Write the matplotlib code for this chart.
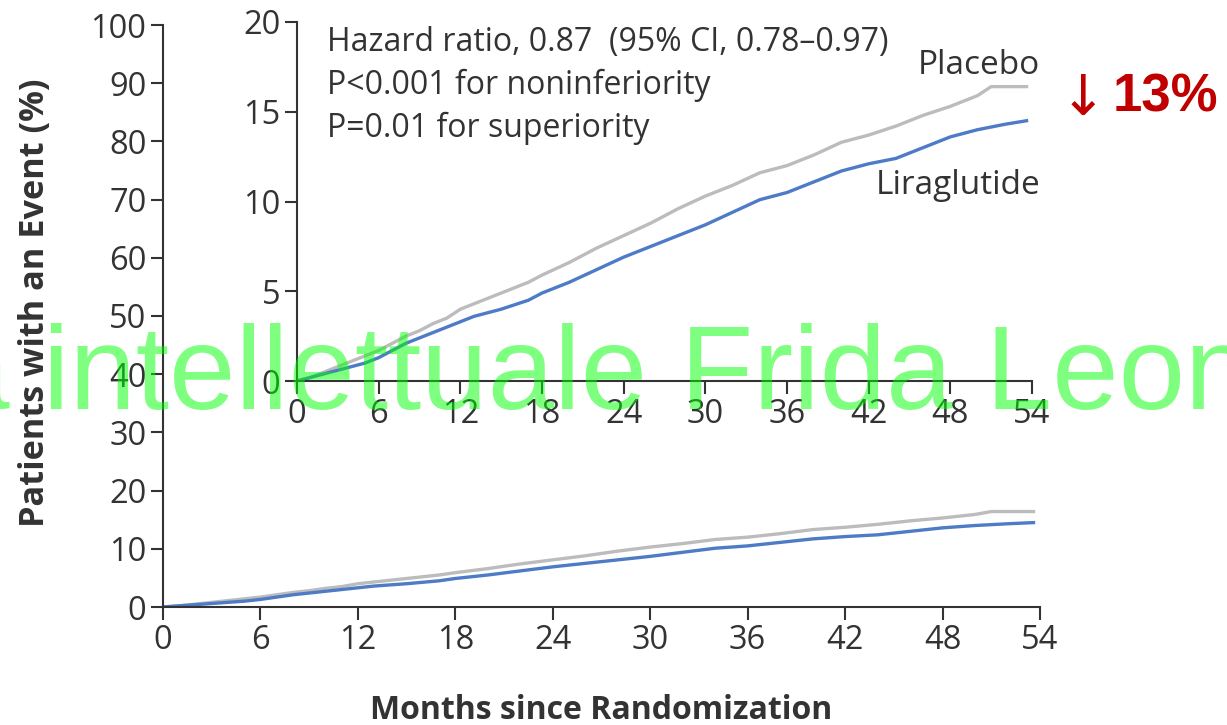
import matplotlib.pyplot as plt

# Kaplan-Meier style cumulative incidence (months, %)
months_placebo = [0, 1, 2, 3, 4, 5, 6, 7, 8, 9, 10, 11, 12, 13, 15, 17, 18, 20, 22, 24,
                  26, 28, 30, 32, 34, 36, 38, 40, 42, 44, 46, 48, 50, 51, 53.6]
placebo = [0, 0.2, 0.5, 0.8, 1.1, 1.4, 1.7, 2.1, 2.5, 2.8, 3.2, 3.5, 4.0, 4.3, 4.9, 5.5, 5.9, 6.6, 7.4, 8.1,
           8.8, 9.6, 10.3, 10.9, 11.6, 12.0, 12.6, 13.3, 13.7, 14.2, 14.8, 15.3, 15.9, 16.4, 16.4]

months_lira = [0, 1, 2, 3, 4, 5, 6, 7, 8, 9, 10, 11, 12, 13, 15, 17, 18, 20, 22, 24,
               26, 28, 30, 32, 34, 36, 38, 40, 42, 44, 46, 48, 50, 52, 53.6]
liraglutide = [0, 0.2, 0.4, 0.6, 0.8, 1.0, 1.3, 1.7, 2.1, 2.4, 2.7, 3.0, 3.3, 3.6, 4.0, 4.5, 4.9, 5.5, 6.2, 6.9,
               7.5, 8.1, 8.7, 9.4, 10.1, 10.5, 11.1, 11.7, 12.1, 12.4, 13.0, 13.6, 14.0, 14.3, 14.5]

xticks = list(range(0, 55, 6))
main_yticks = list(range(0, 101, 10))
inset_yticks = [0, 5, 10, 15, 20]

grey = '#bcbcbc'
blue = '#4d7bc6'
dark = '#333333'
W, H = 1227, 725

plt.rcParams['font.family'] = ['Open Sans', 'DejaVu Sans']
fig = plt.figure(figsize=(W / 100, H / 100), dpi=100)


def style(ax, fs):
    for s in ['top', 'right']:
        ax.spines[s].set_visible(False)
    for s in ['left', 'bottom']:
        ax.spines[s].set_color(dark)
        ax.spines[s].set_linewidth(1.5)
    ax.tick_params(direction='out', length=9, width=1.5, colors=dark, labelsize=fs, pad=3)


# main axes
ax = fig.add_axes([163 / W, 1 - 607 / H, (1040 - 163) / W, (607 - 25) / H])
ax.plot(months_placebo, placebo, color=grey, lw=2.4)
ax.plot(months_lira, liraglutide, color=blue, lw=2.4)
ax.set_xlim(0, 54)
ax.set_ylim(0, 100)
ax.set_xticks(xticks)
ax.set_yticks(main_yticks)
style(ax, 23.5)
ax.set_ylabel('Patients with an Event (%)', fontsize=24.7, fontweight='bold', color=dark)
ax.yaxis.set_label_coords(-0.127, 0.523)
ax.set_xlabel('Months since Randomization', fontsize=23, fontweight='bold', color=dark, labelpad=27)

# inset
ax2 = fig.add_axes([297 / W, 1 - 381 / H, (1032 - 297) / W, (381 - 22) / H])
ax2.patch.set_alpha(0)
ax2.plot(months_placebo, placebo, color=grey, lw=2.4)
ax2.plot(months_lira, liraglutide, color=blue, lw=2.4)
ax2.set_xlim(0, 54)
ax2.set_ylim(0, 20)
ax2.set_xticks(xticks)
ax2.set_yticks(inset_yticks)
style(ax2, 23.5)

ax2.text(2.2, 19.8, 'Hazard ratio, 0.87  (95% CI, 0.78\u20130.97)\nP<0.001 for noninferiority\nP=0.01 for superiority',
         fontsize=23, color=dark, va='top', ha='left', linespacing=1.4)
ax2.text(54.6, 17.6, 'Placebo', fontsize=24, color=dark, ha='right', va='center')
ax2.text(54.6, 10.9, 'Liraglutide', fontsize=24, color=dark, ha='right', va='center')

# reduction annotation
fig.text(1083 / W, 1 - 100 / H, '\u2193', fontsize=40, color='#c00000', ha='center', va='center',
         family=['DejaVu Sans'])
fig.text(1113 / W, 1 - 97 / H, '13%', fontsize=38, color='#c00000', fontweight='bold', ha='left', va='center',
         family=['Liberation Sans', 'DejaVu Sans'])

# watermark
fig.text(43 / W, 1 - 409 / H, 'intellettuale Frida Leone', fontsize=86, color=(0, 1, 0), alpha=0.5,
         ha='left', va='baseline', family=['Liberation Sans', 'DejaVu Sans'], zorder=10)
fig.text(10 / W, 1 - 409 / H, 'Propriet\u00e0', fontsize=86, color=(0, 1, 0), alpha=0.5,
         ha='right', va='baseline', family=['Liberation Sans', 'DejaVu Sans'], zorder=10)

fig.savefig('out.png', dpi=100)
